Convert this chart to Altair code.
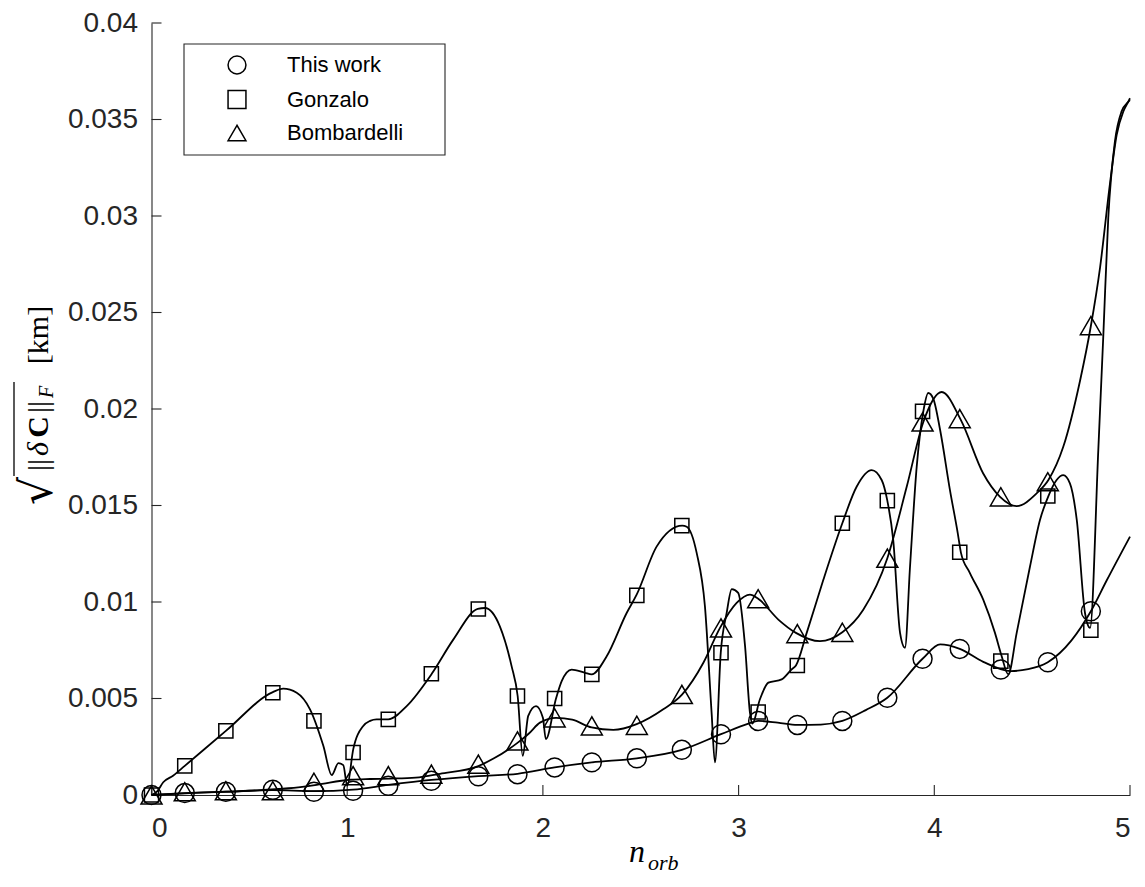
import altair as alt
import pandas as pd

# ---------------- data ----------------
series_names = ["This work", "Gonzalo", "Bombardelli"]
series_shapes = ["circle", "square", "triangle-up"]

marker_x = [0, 0.17, 0.38, 0.62, 0.83, 1.03, 1.21, 1.43, 1.67, 1.87, 2.06, 2.25,
            2.48, 2.71, 2.91, 3.10, 3.30, 3.53, 3.76, 3.94, 4.13, 4.34, 4.58, 4.80]
this_work_y = [0, 0.0001, 0.00017, 0.00027, 0.00017, 0.00022, 0.00048, 0.00074,
               0.00097, 0.00108, 0.00143, 0.00169, 0.0019, 0.00234, 0.00315, 0.00384,
               0.00363, 0.00384, 0.00504, 0.00706, 0.00757, 0.0065, 0.00688, 0.00952]
gonzalo_y = [0, 0.00151, 0.00332, 0.0053, 0.00384, 0.0022, 0.00392, 0.00628,
             0.00964, 0.00513, 0.005, 0.00625, 0.01034, 0.01396, 0.00737, 0.0043,
             0.00671, 0.01408, 0.01525, 0.01988, 0.01258, 0.00694, 0.01549, 0.00854]
bombardelli_y = [0, 0.00017, 0.00022, 0.00022, 0.00066, 0.001, 0.001, 0.00108,
                 0.0016, 0.0028, 0.004, 0.00358, 0.00361, 0.00521, 0.00866, 0.01017,
                 0.00836, 0.00843, 0.01227, 0.01933, 0.0195, 0.01545, 0.01623, 0.02432]

this_work_line_x = [0, 0.17, 0.38, 0.62, 0.83, 1.03, 1.21, 1.43, 1.67, 1.87, 2.06, 2.25,
                    2.48, 2.71, 2.91, 3.05, 3.10, 3.20, 3.30, 3.42, 3.53, 3.65, 3.76,
                    3.94, 4.03, 4.13, 4.25, 4.39, 4.48, 4.58, 4.70, 4.80, 4.88, 5.0]
this_work_line_y = [0, 0.0001, 0.00017, 0.00025, 0.0002, 0.00028, 0.00052, 0.00078,
                    0.00098, 0.0011, 0.00143, 0.00169, 0.0019, 0.00234, 0.00315, 0.0037,
                    0.00384, 0.00375, 0.00363, 0.00365, 0.00384, 0.0044, 0.00504,
                    0.00706, 0.0078, 0.00757, 0.0069, 0.00642, 0.00652, 0.00688, 0.0080,
                    0.00952, 0.0111, 0.01339]

gonzalo_line_x = [0, 0.03, 0.06, 0.11, 0.17, 0.38, 0.62, 0.673, 0.742, 0.81, 0.878,
                  0.921, 0.955, 0.98, 1.0, 1.031, 1.082, 1.117, 1.15, 1.21, 1.304, 1.432,
                  1.542, 1.667, 1.704, 1.78, 1.84, 1.871, 1.897, 1.925, 1.965, 2.0, 2.015,
                  2.067, 2.096, 2.147, 2.215, 2.249, 2.326, 2.428, 2.479, 2.581, 2.712,
                  2.735, 2.786, 2.828, 2.862, 2.879, 2.909, 2.939, 2.965, 2.998, 3.033,
                  3.058, 3.07, 3.109, 3.152, 3.22, 3.27, 3.293, 3.348, 3.433, 3.53, 3.603,
                  3.68, 3.731, 3.76, 3.79, 3.825, 3.85, 3.876, 3.91, 3.944, 3.969, 3.995,
                  4.03, 4.08, 4.12, 4.136, 4.182, 4.25, 4.31, 4.344, 4.378, 4.421, 4.489,
                  4.54, 4.583, 4.625, 4.659, 4.693, 4.728, 4.77, 4.796, 4.838, 4.864,
                  4.889, 4.923, 4.957, 4.99, 5.0]
gonzalo_line_y = [0, 0.0002, 0.00066, 0.001, 0.00151, 0.00332, 0.00533, 0.00551, 0.0053,
                  0.00444, 0.00255, 0.00103, 0.00165, 0.00155, 0.00048, 0.00238, 0.00358,
                  0.00384, 0.00392, 0.00392, 0.00461, 0.00628, 0.00805, 0.00964, 0.00969,
                  0.00874, 0.00668, 0.00513, 0.00203, 0.0041, 0.00461, 0.004, 0.00289,
                  0.005, 0.0059, 0.0065, 0.00633, 0.00625, 0.00719, 0.00943, 0.01038,
                  0.01287, 0.01396, 0.0139, 0.01253, 0.00977, 0.00427, 0.00169, 0.0074,
                  0.00943, 0.01067, 0.01047, 0.00771, 0.00427, 0.0037, 0.00496, 0.00582,
                  0.00599, 0.0065, 0.00671, 0.0084, 0.01115, 0.01408, 0.01597, 0.01683,
                  0.01632, 0.01525, 0.01322, 0.0084, 0.00763, 0.01184, 0.017, 0.01988,
                  0.02083, 0.02053, 0.0189, 0.0158, 0.01356, 0.01256, 0.0115, 0.01012,
                  0.0084, 0.0072, 0.00625, 0.0084, 0.01184, 0.01425, 0.01549, 0.01632,
                  0.01657, 0.01615, 0.01425, 0.00943, 0.00866, 0.01787, 0.02389, 0.02991,
                  0.03387, 0.03542, 0.0359, 0.036]

bombardelli_line_x = [0, 0.2, 0.5, 0.7, 0.844, 1.014, 1.117, 1.22, 1.35, 1.474, 1.67,
                      1.75, 1.87, 1.93, 1.985, 2.067, 2.15, 2.249, 2.36, 2.479, 2.615,
                      2.712, 2.82, 2.905, 2.99, 3.058, 3.10, 3.203, 3.293, 3.416, 3.53,
                      3.637, 3.76, 3.859, 3.944, 4.038, 4.136, 4.25, 4.336, 4.421, 4.523,
                      4.583, 4.659, 4.745, 4.80, 4.847, 4.897, 4.932, 4.966, 4.99, 5.0]
bombardelli_line_y = [0, 0.0001, 0.00022, 0.00035, 0.00053, 0.00079, 0.00083, 0.00085,
                      0.0009, 0.0011, 0.0015, 0.0019, 0.0027, 0.0032, 0.00375, 0.004,
                      0.0039, 0.0035, 0.00337, 0.00367, 0.00444, 0.00521, 0.00685, 0.00866,
                      0.00995, 0.01038, 0.01017, 0.00909, 0.0084, 0.00797, 0.00843, 0.0096,
                      0.01227, 0.01597, 0.01933, 0.02088, 0.01942, 0.01666, 0.01545,
                      0.01497, 0.01563, 0.01632, 0.01804, 0.02148, 0.0243, 0.02733,
                      0.03163, 0.03421, 0.03542, 0.0359, 0.0361]

x_ticks = [0, 1, 2, 3, 4, 5]
y_ticks = [0, 0.005, 0.01, 0.015, 0.02, 0.025, 0.03, 0.035, 0.04]

# ---------------- tables ----------------
lines_df = pd.concat([
    pd.DataFrame({"x": this_work_line_x, "y": this_work_line_y, "series": series_names[0]}),
    pd.DataFrame({"x": gonzalo_line_x, "y": gonzalo_line_y, "series": series_names[1]}),
    pd.DataFrame({"x": bombardelli_line_x, "y": bombardelli_line_y, "series": series_names[2]}),
], ignore_index=True)

marker_tables = [
    pd.DataFrame({"x": marker_x, "y": this_work_y, "series": series_names[0]}),
    pd.DataFrame({"x": marker_x, "y": gonzalo_y, "series": series_names[1]}),
    pd.DataFrame({"x": marker_x, "y": bombardelli_y, "series": series_names[2]}),
]
marker_sizes = [360, 200, 441]

W, H = 978.5, 772
AX = "#262626"
SANS = "Liberation Sans"
SERIF = "Liberation Serif"

xs = alt.Scale(domain=[0, 5], nice=False, zero=False)
ys = alt.Scale(domain=[0, 0.04], nice=False, zero=False)

x_axis = alt.Axis(values=x_ticks, format="d", ticks=False, grid=False, title=None,
                  labelFont=SANS, labelFontSize=28, labelColor=AX, labelPadding=19,
                  domainColor=AX, domainWidth=1.1)
y_axis = alt.Axis(values=y_ticks, format="~g", ticks=False, grid=False, title=None,
                  labelFont=SANS, labelFontSize=28, labelColor=AX, labelPadding=14,
                  domainColor=AX, domainWidth=1.1)

lines = alt.Chart(lines_df).mark_line(color="black", strokeWidth=1.8,
                                      interpolate="monotone").encode(
    x=alt.X("x:Q", scale=xs, axis=x_axis),
    y=alt.Y("y:Q", scale=ys, axis=y_axis),
    detail="series:N",
)

legend = alt.Legend(orient="none", legendX=32.5, legendY=21, title=None,
                    padding=10,
                    symbolSize=320, symbolStrokeWidth=1.5,
                    symbolStrokeColor="black", symbolFillColor="transparent",
                    symbolOffset=32, labelOffset=39,
                    labelFont=SANS, labelFontSize=22, labelColor="black",
                    rowPadding=10.5)
shape_scale = alt.Scale(domain=series_names, range=series_shapes)

point_layers = []
for tbl, sz in zip(marker_tables, marker_sizes):
    point_layers.append(
        alt.Chart(tbl).mark_point(filled=False, color="black", strokeWidth=1.5,
                                  opacity=1, size=sz).encode(
            x=alt.X("x:Q", scale=xs),
            y=alt.Y("y:Q", scale=ys),
            shape=alt.Shape("series:N", scale=shape_scale, legend=legend),
        )
    )

# legend frame (decoration)
legend_frame = alt.Chart(pd.DataFrame({"a": [0]})).mark_rect(
    fill="white", stroke=AX, strokeWidth=1.1).encode(
    x=alt.value(184 - 151.5), x2=alt.value(445 - 151.5),
    y=alt.value(44 - 23), y2=alt.value(155 - 23))

# inward ticks
ytick_df = pd.DataFrame({"v": y_ticks})
xtick_df = pd.DataFrame({"v": x_ticks})
yticks = alt.Chart(ytick_df).mark_rule(color=AX, strokeWidth=1.1).encode(
    y=alt.Y("v:Q", scale=ys), x=alt.value(0), x2=alt.value(10))
xticks = alt.Chart(xtick_df).mark_rule(color=AX, strokeWidth=1.1).encode(
    x=alt.X("v:Q", scale=xs), y=alt.value(H), y2=alt.value(H - 10))

# axis titles (LaTeX-like, built from pieces)
def txt(s, x, y, size, font=SERIF, style="normal", weight="normal", angle=0,
        align="center", baseline="alphabetic"):
    return alt.Chart(pd.DataFrame({"t": [s]})).mark_text(
        font=font, fontSize=size, fontStyle=style, fontWeight=weight, angle=angle,
        align=align, baseline=baseline, color="black").encode(
        text="t:N", x=alt.value(x), y=alt.value(y))

bx = 48 - 151.5
ytitle = [
    txt("\u221a", bx + 4, 491 - 23, 44, font="DejaVu Serif", angle=270),
    txt("||", bx, 465 - 23, 30, angle=270),
    txt("\u03b4", bx, 449 - 23, 30, style="italic", angle=270),
    txt("C", bx, 427 - 23, 30, weight="bold", angle=270),
    txt("||", bx, 407 - 23, 30, angle=270),
    txt("F", bx + 5, 392 - 23, 20, style="italic", angle=270),
    txt("[km]", bx, 335 - 23, 30, angle=270),
]
overline = alt.Chart(pd.DataFrame({"a": [0]})).mark_rule(color="black", strokeWidth=1.3).encode(
    x=alt.value(14 - 151.5), y=alt.value(382 - 23), y2=alt.value(476 - 23))

xtitle = [
    txt("n", 637 - 151.5, 862 - 23, 32, style="italic"),
    txt("orb", 648 - 151.5, 870 - 23, 22, style="italic", align="left"),
]

chart = alt.layer(yticks, xticks, lines, legend_frame, *point_layers, overline,
                  *ytitle, *xtitle).properties(
    width=W, height=H,
    autosize=alt.AutoSizeParams(type="none"),
    padding={"left": 151.5, "top": 23, "right": 15, "bottom": 92},
    background="white",
).configure_view(stroke=None)

chart.save("out.html", embed_options={"renderer": "svg", "actions": False})
